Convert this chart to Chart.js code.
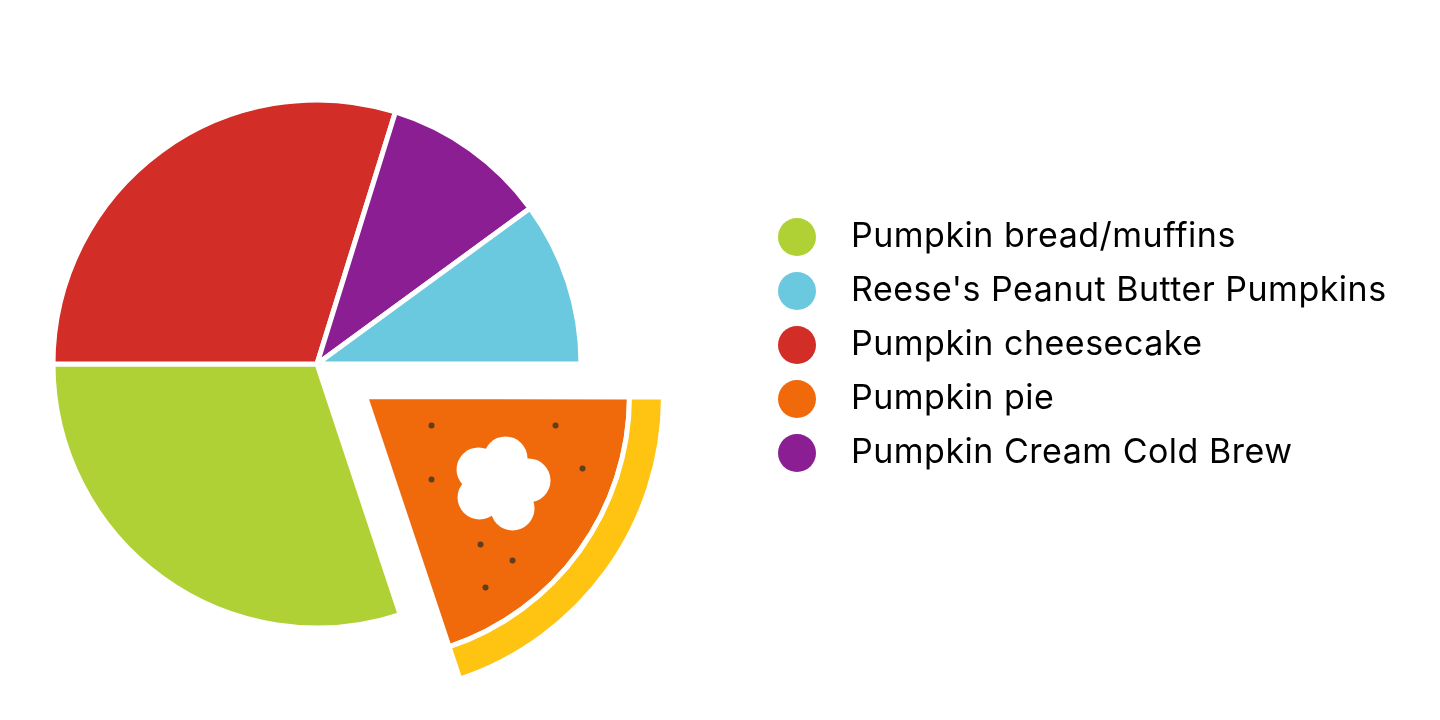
<!DOCTYPE html>
<html lang="en">
<head>
<meta charset="UTF-8">
<title>Favorite pumpkin treats</title>
<script src="https://cdn.jsdelivr.net/npm/chart.js@4"></script>
<style>
    html, body { margin: 0; width: 1440px; height: 720px; background: #fff; overflow: hidden; }
    #chartBox { position: absolute; left: 0; top: 0; width: 1440px; height: 720px; }
    #legend { position: absolute; left: 778px; top: 210px; margin: 0; padding: 0; list-style: none;
        font-family: Inter, sans-serif; font-size: 34px; letter-spacing: 0.5px; color: #000; }
    #legend li { display: flex; align-items: center; height: 54px; white-space: nowrap; }
    #legend i { width: 38px; height: 38px; border-radius: 50%; margin-right: 35px; }
    #legend span { position: relative; top: -3px; }
</style>
</head>
<body>
<div id="chartBox"><canvas id="pie"></canvas></div>
<ul id="legend"></ul>

<script>
    // Legend order
    const categories = ['Pumpkin bread/muffins', "Reese's Peanut Butter Pumpkins", 'Pumpkin cheesecake', 'Pumpkin pie', 'Pumpkin Cream Cold Brew'];
    const shares = [30.1, 10.05, 29.8, 19.9, 10.15];
    const colors = ['#AFD136', '#6BC9DF', '#D22D27', '#F0690A', '#8A1E92'];
    const crustColor = '#FFC312';
    const highlighted = 'Pumpkin pie';

    // Slices run clockwise from 3 o'clock, starting at the pie
    const sliceOrder = [3, 0, 2, 4, 1];
    const labels = sliceOrder.map(i => categories[i]);
    const values = sliceOrder.map(i => shares[i]);
    const sliceColors = sliceOrder.map(i => colors[i]);
    const isPie = labels.map(l => l === highlighted);

    const pullOut = 232; // Chart.js moves an arc by offset / 4
    const pieIndex = isPie.indexOf(true);

    // Filling and crumbs, in px from the tip of the pulled-out slice
    const cream = [[140, 62, 22], [113, 73, 22], [163, 84, 22], [114, 101, 22], [147, 112, 22], [135, 88, 25]];
    const crumbs = [[66, 29], [190, 29], [217, 72], [66, 83], [115, 148], [147, 164], [120, 191]];

    const piePainting = {
        id: 'piePainting',
        // the offset also grows the arc a little, take that back and line the tip up
        afterDatasetsUpdate(chart) {
            chart.data.datasets.forEach((ds, d) => {
                const arc = chart.getDatasetMeta(d).data[pieIndex];
                arc.outerRadius -= 3;
                if (arc.innerRadius > 0) arc.innerRadius -= 3;
                arc.x += 1.5;
                arc.y -= 1.5;
            });
        },
        afterDatasetsDraw(chart) {
            const arc = chart.getDatasetMeta(1).data[pieIndex];
            const mid = (arc.startAngle + arc.endAngle) / 2;
            const x = arc.x + Math.cos(mid) * pullOut / 4;
            const y = arc.y + Math.sin(mid) * pullOut / 4;
            const ctx = chart.ctx;
            ctx.save();
            ctx.fillStyle = '#fff';
            cream.forEach(c => {
                ctx.beginPath();
                ctx.arc(x + c[0], y + c[1], c[2], 0, Math.PI * 2);
                ctx.fill();
            });
            ctx.fillStyle = '#5F3D1E';
            crumbs.forEach(c => {
                ctx.beginPath();
                ctx.arc(x + c[0], y + c[1], 3, 0, Math.PI * 2);
                ctx.fill();
            });
            ctx.restore();
        }
    };

    new Chart(document.getElementById('pie'), {
        type: 'pie',
        data: {
            labels: labels,
            datasets: [{
                // crust ring, only visible behind the pulled-out slice
                data: values,
                weight: 34,
                backgroundColor: isPie.map(p => p ? crustColor : 'transparent'),
                borderColor: isPie.map(p => p ? '#fff' : 'transparent'),
                borderWidth: 5,
                offset: isPie.map(p => p ? pullOut : 0)
            }, {
                data: values,
                weight: 264,
                backgroundColor: sliceColors,
                borderColor: '#fff',
                borderWidth: 5,
                offset: isPie.map(p => p ? pullOut : 0)
            }]
        },
        options: {
            responsive: true,
            maintainAspectRatio: false,
            animation: false,
            rotation: 90,
            radius: 298,
            layout: { padding: { top: 8, right: 806 } },
            plugins: { legend: { display: false }, tooltip: { enabled: false } }
        },
        plugins: [piePainting]
    });

    // Legend
    const legend = document.getElementById('legend');
    categories.forEach((name, i) => {
        const row = document.createElement('li');
        const dot = document.createElement('i');
        const text = document.createElement('span');
        dot.style.background = colors[i];
        text.textContent = name;
        row.appendChild(dot);
        row.appendChild(text);
        legend.appendChild(row);
    });
</script>
</body>
</html>
